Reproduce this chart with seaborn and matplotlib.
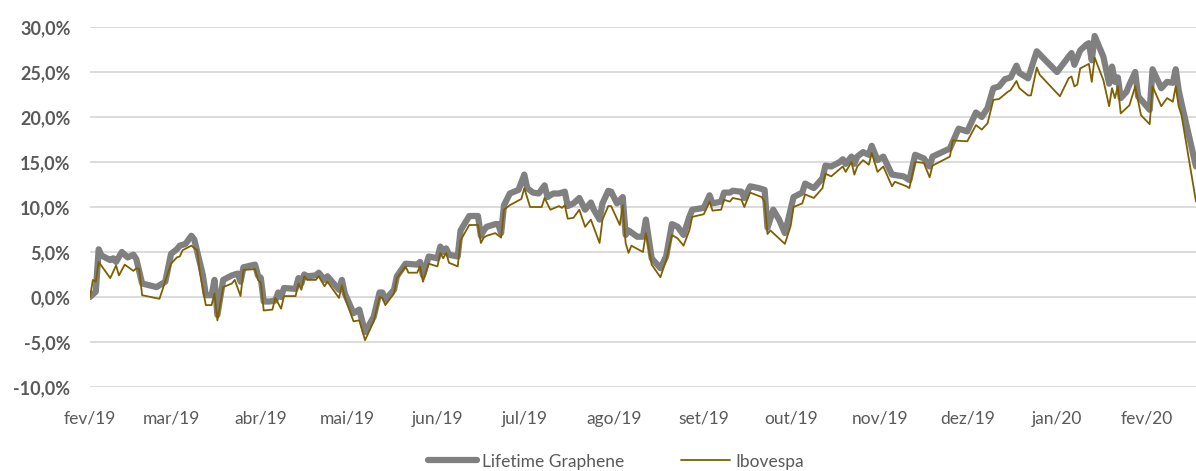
import pandas as pd
import seaborn as sns
import matplotlib.pyplot as plt
from matplotlib.ticker import FuncFormatter, MultipleLocator

# values (days counted from start_date, returns in %)
start_date = "2019-02-01"

graphene_days = [0, 1, 2, 3, 4, 7, 8, 9, 11, 13, 15, 16, 18, 23, 26, 28, 30, 31, 33, 35,
                 36, 39, 40, 42, 43, 44, 46, 49, 51, 52, 53, 57, 58, 59, 60, 62, 64, 65, 66, 67,
                 71, 72, 73, 74, 75, 78, 79, 81, 82, 86, 87, 88, 91, 93, 95, 98, 100, 101, 102, 105,
                 106, 109, 113, 114, 115, 117, 120, 121, 122, 123, 124, 127, 128, 131, 134, 135, 136, 137, 140, 141,
                 142, 143, 145, 148, 150, 151, 153, 155, 157, 158, 160, 162, 164, 165, 167, 169, 171, 173, 174, 176,
                 177, 179, 180, 182, 184, 185, 186, 189, 191, 192, 194, 197, 199, 201, 203, 205, 207, 208, 212, 214,
                 215, 218, 219, 221, 222, 225, 226, 228, 231, 233, 234, 236, 238, 240, 241, 243, 246, 247, 250, 253,
                 254, 256, 259, 260, 261, 263, 264, 265, 267, 269, 270, 272, 274, 277, 281, 283, 285, 288, 290, 291,
                 297, 300, 303, 306, 308, 310, 312, 314, 316, 318, 320, 321, 324, 327, 330, 334, 338, 339, 340, 342,
                 344, 345, 346, 347, 350, 352, 353, 354, 355, 356, 358, 359, 361, 362, 366, 367, 370, 372, 374, 375,
                 376, 377, 382]
graphene_values = [0.0, 0.3, 0.6, 5.3, 4.6, 4.1, 4.3, 3.9, 5.0, 4.4, 4.7, 4.2, 1.5, 1.1, 1.7, 4.8, 5.3, 5.7, 5.9, 6.8,
                   6.4, 2.4, 0.2, 0.2, 1.9, -2.0, 1.9, 2.4, 2.6, 1.7, 3.3, 3.6, 2.4, 2.1, -0.5, -0.5, -0.4, 0.5, 0.0, 1.0,
                   0.9, 2.1, 1.5, 2.5, 2.3, 2.4, 2.7, 1.9, 2.3, 0.8, 1.9, 0.4, -1.8, -1.4, -3.9, -2.2, 0.5, 0.5, -0.3, 0.8,
                   2.3, 3.7, 3.6, 3.9, 2.4, 4.5, 4.3, 5.6, 5.0, 5.4, 4.7, 4.5, 7.4, 9.0, 9.0, 6.8, 7.4, 7.8, 8.1, 8.1,
                   7.1, 10.2, 11.5, 11.9, 13.6, 12.1, 11.6, 11.5, 12.4, 11.1, 11.5, 11.5, 11.7, 10.1, 10.4, 11.0, 9.7, 10.5, 9.7, 8.6,
                   10.4, 11.8, 11.7, 10.4, 11.1, 6.9, 7.4, 6.7, 6.7, 8.6, 4.3, 3.2, 4.5, 8.1, 7.8, 6.9, 8.9, 9.7, 9.9, 11.3,
                   10.4, 10.6, 11.6, 11.6, 11.8, 11.7, 11.0, 12.3, 12.1, 11.9, 7.7, 9.7, 8.6, 7.1, 8.4, 11.1, 11.6, 12.6, 12.1, 13.2,
                   14.6, 14.5, 15.0, 15.3, 14.8, 15.6, 14.8, 15.6, 16.1, 15.8, 16.8, 15.2, 15.6, 13.6, 13.4, 13.0, 15.8, 15.4, 14.5, 15.6,
                   16.5, 18.7, 18.4, 20.5, 20.0, 21.0, 23.2, 23.4, 24.2, 24.4, 25.7, 24.9, 24.3, 27.3, 26.3, 25.0, 26.7, 27.1, 25.8, 27.4,
                   28.0, 28.2, 26.3, 29.0, 26.7, 23.7, 25.6, 23.9, 24.4, 22.1, 22.8, 23.6, 25.0, 22.3, 20.8, 25.3, 23.2, 23.9, 23.8, 25.3,
                   23.0, 21.5, 14.5]

ibov_days = [0, 1, 2, 3, 7, 9, 10, 12, 15, 16, 17, 18, 24, 28, 30, 31, 32, 35, 37, 38,
             40, 42, 43, 44, 46, 49, 50, 52, 53, 57, 58, 59, 60, 63, 64, 66, 67, 71, 72, 73,
             74, 75, 78, 79, 81, 82, 86, 87, 88, 91, 93, 95, 98, 100, 101, 102, 105, 106, 109, 110,
             113, 114, 115, 117, 120, 121, 122, 123, 124, 127, 128, 131, 134, 135, 136, 137, 140, 142, 143, 145,
             149, 150, 152, 156, 157, 159, 162, 163, 164, 165, 167, 169, 171, 173, 176, 177, 179, 180, 183, 184,
             185, 186, 187, 191, 192, 194, 197, 199, 201, 203, 205, 207, 208, 212, 214, 215, 218, 219, 221, 222,
             225, 226, 228, 232, 233, 234, 235, 240, 242, 243, 246, 247, 250, 253, 254, 256, 260, 261, 263, 264,
             265, 267, 269, 270, 272, 274, 277, 278, 282, 283, 285, 288, 290, 291, 297, 298, 303, 306, 308, 310,
             312, 314, 317, 318, 320, 321, 324, 325, 327, 328, 335, 338, 339, 340, 341, 342, 345, 346, 347, 350,
             352, 353, 354, 355, 356, 359, 361, 363, 366, 367, 370, 372, 374, 375, 376, 377, 382]
ibov_values = [0.0, 1.9, 1.7, 3.9, 2.1, 3.5, 2.4, 3.6, 2.9, 3.2, 3.1, 0.2, -0.2, 3.7, 4.4, 4.5, 5.2, 5.7, 5.2, 2.6,
               -0.9, -0.9, 0.4, -2.6, 1.1, 1.5, 1.9, 0.1, 3.0, 3.1, 1.9, 1.6, -1.5, -1.4, -0.1, -1.3, 0.1, 0.1, 1.5, 0.8,
               2.3, 1.9, 1.9, 2.3, 1.2, 1.7, -0.1, 1.3, 0.0, -2.7, -2.6, -4.8, -2.7, 0.0, -0.1, -0.9, 0.4, 2.1, 3.4, 2.7,
               2.7, 3.4, 1.7, 3.7, 3.4, 4.9, 4.3, 4.9, 3.8, 3.4, 6.3, 8.0, 8.0, 6.0, 6.6, 6.8, 7.1, 6.6, 9.7, 10.2,
               10.9, 12.1, 10.0, 10.0, 11.0, 9.7, 10.1, 9.9, 10.2, 8.7, 8.8, 9.7, 7.8, 8.6, 6.0, 8.6, 10.1, 10.1, 8.0, 10.2,
               6.0, 4.9, 5.7, 5.0, 7.1, 3.6, 2.2, 4.1, 6.9, 6.5, 5.7, 7.4, 8.9, 9.2, 10.6, 9.6, 9.7, 10.8, 10.6, 11.0,
               10.8, 10.0, 11.6, 11.1, 10.6, 7.0, 7.4, 5.9, 7.9, 10.0, 10.4, 11.4, 11.0, 12.1, 13.7, 13.4, 14.5, 13.9, 15.0, 13.6,
               14.5, 15.2, 14.7, 16.0, 13.9, 14.5, 12.3, 12.8, 12.3, 12.1, 15.0, 14.9, 13.3, 14.6, 15.6, 17.4, 17.3, 19.1, 18.6, 19.3,
               21.9, 22.0, 22.8, 23.0, 24.0, 23.2, 22.4, 22.4, 25.5, 24.7, 22.3, 24.3, 24.5, 23.4, 23.6, 25.4, 25.9, 23.9, 26.6, 24.1,
               21.2, 23.2, 22.1, 23.4, 20.4, 21.3, 23.4, 20.2, 19.2, 23.4, 21.2, 22.1, 21.7, 23.4, 21.2, 20.2, 10.6]

month_labels = ["fev/19", "mar/19", "abr/19", "mai/19", "jun/19", "jul/19", "ago/19",
                "set/19", "out/19", "nov/19", "dez/19", "jan/20", "fev/20"]

base = pd.Timestamp(start_date)
graphene_df = pd.DataFrame({"date": base + pd.to_timedelta(graphene_days, unit="D"),
                            "ret": graphene_values})
ibov_df = pd.DataFrame({"date": base + pd.to_timedelta(ibov_days, unit="D"),
                        "ret": ibov_values})

sns.set_theme(style="white")
plt.rcParams["font.family"] = ["Lato", "DejaVu Sans"]

fig = plt.figure(figsize=(11.96, 4.71), dpi=100)
ax = fig.add_axes([90 / 1196, 84 / 471, 1106 / 1196, 360 / 471])

sns.lineplot(data=graphene_df, x="date", y="ret", ax=ax, color="#808080", linewidth=4.5,
             estimator=None, label="Lifetime Graphene", solid_joinstyle="round", solid_capstyle="round")
sns.lineplot(data=ibov_df, x="date", y="ret", ax=ax, color="#7f6000", linewidth=1.3,
             estimator=None, label="Ibovespa")

ax.set_xlim(base, base + pd.Timedelta(days=382))
ax.set_ylim(-10, 30)
ax.yaxis.set_major_locator(MultipleLocator(5))
ax.yaxis.set_major_formatter(FuncFormatter(lambda v, p: f"{v:.1f}%".replace(".", ",")))
ax.set_xticks(pd.date_range(start_date, periods=len(month_labels), freq="MS"))
ax.set_xticklabels(month_labels)

ax.yaxis.grid(True, color="#d9d9d9", linewidth=1.3)
ax.set_axisbelow(True)
sns.despine(ax=ax, left=True, bottom=True)
ax.tick_params(axis="both", length=0)
ax.tick_params(axis="x", pad=17, labelsize=12.5, labelcolor="#595959")
ax.tick_params(axis="y", pad=14, labelsize=13, labelcolor="#595959")
for lbl in ax.get_yticklabels():
    lbl.set_fontweight("bold")
ax.set_xlabel("")
ax.set_ylabel("")

handles, labels = ax.get_legend_handles_labels()
ax.get_legend().remove()
fig.legend(handles, labels, loc="lower center", bbox_to_anchor=(0.515, -0.03), ncol=2,
           frameon=False, fontsize=12.5, labelcolor="#595959", handlelength=2.8,
           columnspacing=3.3, handletextpad=0.3)

fig.savefig("out.png", dpi=100)
